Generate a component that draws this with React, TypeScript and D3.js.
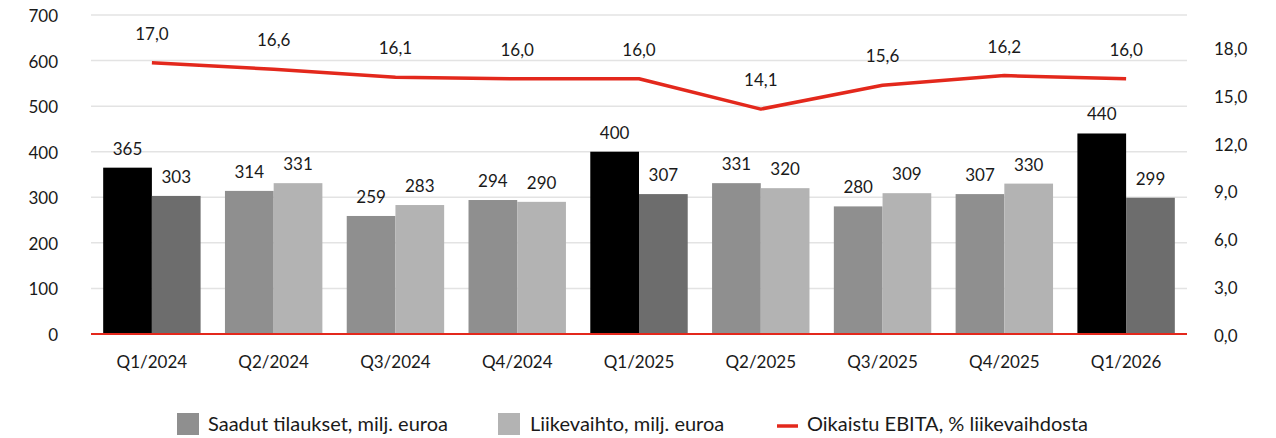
import * as d3 from "d3";
import React from "react";

const quarters = ["Q1/2024", "Q2/2024", "Q3/2024", "Q4/2024", "Q1/2025", "Q2/2025", "Q3/2025", "Q4/2025", "Q1/2026"];
const orders = [365, 314, 259, 294, 400, 331, 280, 307, 440];
const revenue = [303, 331, 283, 290, 307, 320, 309, 330, 299];
const ebita = [17.0, 16.6, 16.1, 16.0, 16.0, 14.1, 15.6, 16.2, 16.0];
const leftTicks = [0, 100, 200, 300, 400, 500, 600, 700];
const rightTicks = [0, 3, 6, 9, 12, 15, 18];

const W = 1276;
const H = 438;
const FONT = "Lato, 'Noto Sans', sans-serif";
const TXT = "#1a1a1a";
const RED = "#e3281c";

const App = () => {
  const left = 91;
  const right = 1187;
  const top = 15;
  const bottom = 334;

  const x = d3.scaleBand<string>().domain(quarters).range([left, right]).paddingInner(0.2).paddingOuter(0.1);
  const yL = d3.scaleLinear().domain([0, 700]).range([bottom, top]);
  const yR = d3.scaleLinear().domain([0, 20]).range([bottom, top]);
  const bw = x.bandwidth() / 2;
  const cx = (q: string) => (x(q) as number) + x.bandwidth() / 2;

  const isQ1 = (q: string) => q.startsWith("Q1");
  const fmt = (v: number) => v.toFixed(1).replace(".", ",");

  const line = d3
    .line<number>()
    .x((d, i) => cx(quarters[i]))
    .y((d) => yR(d));

  return (
    <svg width={W} height={H} style={{ position: "absolute", left: 0, top: 0 }} fontFamily={FONT}>
      <rect width={W} height={H} fill="#fff" />
      {leftTicks.map((t) => (
        <line key={"g" + t} x1={left} x2={right} y1={yL(t)} y2={yL(t)} stroke="#e3e3e3" strokeWidth={1.5} />
      ))}
      {leftTicks.map((t) => (
        <text key={"l" + t} x={58} y={yL(t) + 7} textAnchor="end" fontSize={17} fill={TXT}>
          {t}
        </text>
      ))}
      {rightTicks.map((t) => (
        <text key={"r" + t} x={1214} y={yR(t) + 8} textAnchor="start" fontSize={17} fill={TXT}>
          {fmt(t)}
        </text>
      ))}

      {quarters.map((q, i) => {
        const x0 = x(q) as number;
        return (
          <g key={q}>
            <rect x={x0} y={yL(orders[i])} width={bw} height={bottom - yL(orders[i])} fill={isQ1(q) ? "#000" : "#8f8f8f"} />
            <rect x={x0 + bw} y={yL(revenue[i])} width={bw} height={bottom - yL(revenue[i])} fill={isQ1(q) ? "#6d6d6d" : "#b3b3b3"} />
            <text x={x0 + bw / 2} y={yL(orders[i]) - 13} textAnchor="middle" fontSize={17} fill={TXT}>
              {orders[i]}
            </text>
            <text x={x0 + bw * 1.5} y={yL(revenue[i]) - 13} textAnchor="middle" fontSize={17} fill={TXT}>
              {revenue[i]}
            </text>
            <text x={cx(q)} y={368} textAnchor="middle" fontSize={17} fill={TXT}>
              {q}
            </text>
            <text x={cx(q)} y={yR(ebita[i]) - 23} textAnchor="middle" fontSize={17} fill={TXT}>
              {fmt(ebita[i])}
            </text>
          </g>
        );
      })}

      <line x1={left} x2={right} y1={bottom} y2={bottom} stroke={RED} strokeWidth={2} />
      <path d={line(ebita) as string} fill="none" stroke={RED} strokeWidth={3.5} strokeLinejoin="round" />

      <g fontSize={20} fill={TXT}>
        <rect x={177} y={413} width={22} height={22} fill="#8f8f8f" />
        <text x={208} y={431}>Saadut tilaukset, milj. euroa</text>
        <rect x={498} y={413} width={22} height={22} fill="#b3b3b3" />
        <text x={530} y={431}>Liikevaihto, milj. euroa</text>
        <line x1={777} x2={798} y1={426} y2={426} stroke={RED} strokeWidth={3.5} />
        <text x={807} y={431}>Oikaistu EBITA, % liikevaihdosta</text>
      </g>
    </svg>
  );
};

export default App;
